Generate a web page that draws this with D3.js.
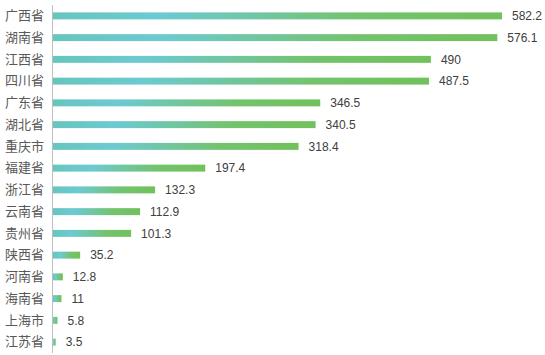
<!DOCTYPE html>
<html><head><meta charset="utf-8">
<script src="https://cdn.jsdelivr.net/npm/d3@7"></script>
<style>html,body{margin:0;padding:0;background:#fff;}svg{display:block;}</style>
</head><body>
<script>
const categories = ["广西省","湖南省","江西省","四川省","广东省","湖北省","重庆市","福建省","浙江省","云南省","贵州省","陕西省","河南省","海南省","上海市","江苏省"];
const values = [582.2,576.1,490,487.5,346.5,340.5,318.4,197.4,132.3,112.9,101.3,35.2,12.8,11,5.8,3.5];
const valueLabels = ["582.2","576.1","490","487.5","346.5","340.5","318.4","197.4","132.3","112.9","101.3","35.2","12.8","11","5.8","3.5"];

const W = 545, H = 355;
const svg = d3.select("body").append("svg").attr("width", W).attr("height", H);

const x = d3.scaleLinear().domain([0, 582.2]).range([53, 502]);
const y = d3.scaleBand().domain(categories).range([5, 353]).paddingInner(0.68).paddingOuter(0.34);

const defs = svg.append("defs");
const grad = defs.append("linearGradient").attr("id","g").attr("x1","0").attr("x2","1").attr("y1","0").attr("y2","0");
grad.append("stop").attr("offset","0").attr("stop-color","#66c6bd");
grad.append("stop").attr("offset","0.24").attr("stop-color","#6ccad2");
grad.append("stop").attr("offset","0.68").attr("stop-color","#73c36e");
grad.append("stop").attr("offset","1").attr("stop-color","#71c15c");

svg.append("g").selectAll("rect").data(values).join("rect")
  .attr("x", x(0))
  .attr("y", (d,i) => y(categories[i]))
  .attr("width", d => x(d) - x(0))
  .attr("height", y.bandwidth())
  .attr("fill", "url(#g)");

svg.append("g").selectAll("text").data(values).join("text")
  .attr("x", d => x(d) + 10)
  .attr("y", (d,i) => y(categories[i]) + y.bandwidth()/2)
  .attr("dy", "0.36em")
  .attr("font-family", "'Liberation Sans', Arial, sans-serif")
  .attr("font-size", 12)
  .attr("fill", "#404040")
  .text((d,i) => valueLabels[i]);

const axis = d3.axisLeft(y).tickSize(0).tickPadding(8);
const ag = svg.append("g").attr("transform", "translate(52,0)").call(axis);
ag.select(".domain").attr("stroke", "#bfbfbf").attr("stroke-width", 1).attr("d", "M0.5,5V353");
ag.selectAll("text")
  .attr("font-family", "'Noto Sans CJK SC', sans-serif")
  .attr("font-size", 13)
  .attr("fill", "#595959");
</script>
</body></html>
